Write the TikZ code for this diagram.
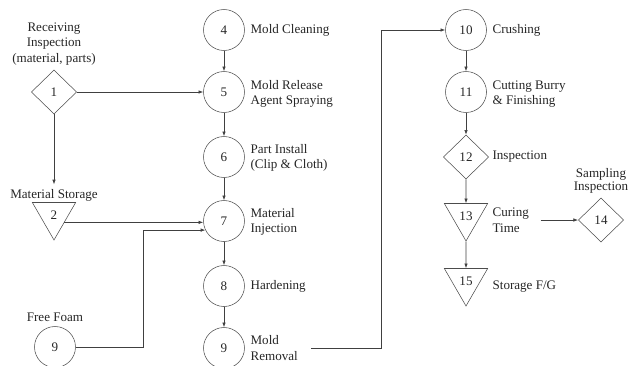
\documentclass[tikz,border=0pt]{standalone}
\usepackage{fontspec}
\setmainfont{Liberation Serif}
\usetikzlibrary{shapes.geometric, arrows.meta, positioning}

\begin{document}
\begin{tikzpicture}[x=0.75pt, y=-0.75pt,
    font=\fontsize{9.8}{11.6}\selectfont,
    op/.style={circle, draw=black!70, text=black!85, minimum size=30.75pt, inner sep=0pt},
    insp/.style={diamond, draw=black!70, text=black!85, minimum width=34pt, minimum height=33pt, inner sep=0pt},
    store/.style={regular polygon, regular polygon sides=3, shape border rotate=180,
                  draw=black!70, text=black!85, minimum size=37.5pt, inner sep=0pt},
    lbl/.style={anchor=west, align=left, inner sep=1pt, text=black!85},
    flow/.style={draw=black!75, line width=0.5pt, -{Latex[length=3.5pt, width=2.6pt]}}
]
\useasboundingbox (0,0) rectangle (631,365);

% Left column: receiving, storage, free foam
\node[insp] (n1) at (54,92) {1};
\node[above=0pt of n1, align=center, text=black!85] (l1) {Receiving\\Inspection\\(material, parts)};
\node[text=black!85] (l2) at (54,195) {Material Storage};
\node[store] (n2) at (54,215) {\raisebox{-1.5pt}{2}};
\node[op] (f9) at (55,347) {9};
\node[above=0pt of f9, text=black!85] (lf9) {Free Foam};

% Middle column: moulding operations
\node[op] (n4) at (224,30)  {4};
\node[op] (n5) at (224,92)  {5};
\node[op] (n6) at (224,157) {6};
\node[op] (n7) at (224,221) {7};
\node[op] (n8) at (224,286) {8};
\node[op] (n9) at (224,348) {9};

\node[lbl] (l4) at (249,30)  {Mold Cleaning};
\node[lbl] (l5) at (249,94)  {Mold Release\\Agent Spraying};
\node[lbl] (l6) at (249,158) {Part Install\\(Clip \& Cloth)};
\node[lbl] (l7) at (249,222) {Material\\Injection};
\node[lbl] (l8) at (249,286) {Hardening};
\node[lbl] (l9) at (249,348) {Mold\\Removal};

% Right column: finishing
\node[op] (n10) at (466,30)  {10};
\node[op] (n11) at (466,92)  {11};
\node[insp] (n12) at (466,157) {12};
\node[store] (n13) at (466,216) {\raisebox{-1.5pt}{13}};
\node[store] (n15) at (466,281) {\raisebox{-1.5pt}{15}};
\node[insp] (n14) at (601,220) {14};

\node[lbl] (l10) at (491,30)  {Crushing};
\node[lbl] (l11) at (491,94)  {Cutting Burry\\\& Finishing};
\node[lbl] (l12) at (491,157) {Inspection};
\node[lbl] (l13) at (491,220) {Curing\\Time};
\node[lbl] (l15) at (491,287) {Storage F/G};
\node[above=0pt of n14, align=center, text=black!85] (l14) {Sampling\\[-2pt]Inspection};

% Connectors
\coordinate (turn) at (381,30);

\draw[flow] (n1) -- (n5);
\draw[flow] (n1) -- (l2);
\draw[flow] (n2.-35) -- (n2.-35 -| n7.west);
\draw[flow] (f9.east) -- ++(68,0) |- (n7.206);

\foreach \a/\b in {n4/n5, n5/n6, n6/n7, n7/n8, n8/n9, n10/n11, n11/n12, n12/n13, n13/n15}
    \draw[flow] (\a) -- (\b);

\draw[flow] (l9.east) ++(12,0) -| (turn) -- (n10);
\draw[flow] (l13.east) ++(10,0) -- (n14);

\end{tikzpicture}
\end{document}
